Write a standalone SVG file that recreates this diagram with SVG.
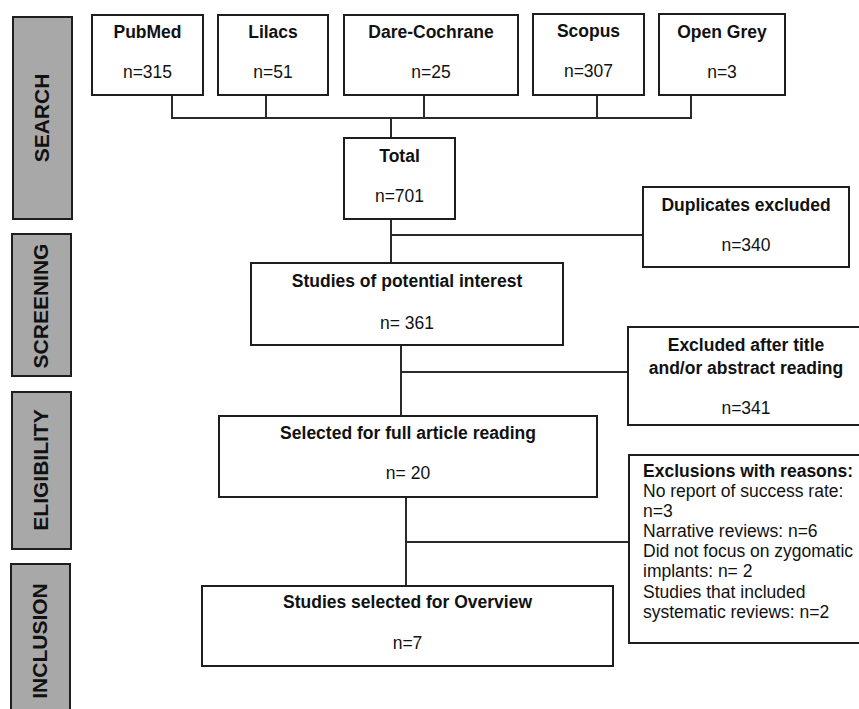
<svg xmlns="http://www.w3.org/2000/svg" width="859" height="709" viewBox="0 0 859 709">
<style>
.box{fill:#fff;stroke:#1e1e1e;stroke-width:2}
.side{fill:#a8a8a8;stroke:#1e1e1e;stroke-width:2}
.t{font-family:"Liberation Sans",Arial,sans-serif;font-size:17.5px;font-weight:bold;fill:#111;text-anchor:middle}
.n{font-family:"Liberation Sans",Arial,sans-serif;font-size:17.5px;fill:#111;text-anchor:middle}
.s{font-family:"Liberation Sans",Arial,sans-serif;font-size:21px;font-weight:bold;fill:#111;text-anchor:middle}
.l{font-family:"Liberation Sans",Arial,sans-serif;font-size:17.5px;fill:#111}
.c{fill:none;stroke:#2a2a2a;stroke-width:2}
</style>
<rect width="859" height="709" fill="#fff"/>
<g id="side-search"><rect class="side" x="13" y="17" width="59" height="202"/><text class="s" transform="translate(49,118) rotate(-90)">SEARCH</text></g>
<g id="side-screening"><rect class="side" x="12" y="234" width="59" height="142"/><text class="s" transform="translate(48,306) rotate(-90)">SCREENING</text></g>
<g id="side-eligibility"><rect class="side" x="12" y="392" width="59" height="157"/><text class="s" transform="translate(48,470) rotate(-90)">ELIGIBILITY</text></g>
<g id="side-inclusion"><rect class="side" x="11" y="564" width="59" height="160"/><text class="s" transform="translate(47,641) rotate(-90)">INCLUSION</text></g>

<g id="connectors">
<path class="c" d="M172 95V118H691V95M266 95V118M424 95V118M597 95V118M391 118V138"/>
<path class="c" d="M391 219V263M391 235H643"/>
<path class="c" d="M401 345V416M401 372H628"/>
<path class="c" d="M406 497V586M406 542H629"/>
</g>

<g id="pubmed"><rect class="box" x="92" y="15" width="111" height="80"/><text class="t" x="147.5" y="38">PubMed</text><text class="n" x="147.5" y="78">n=315</text></g>
<g id="lilacs"><rect class="box" x="218" y="15" width="110" height="80"/><text class="t" x="273" y="38">Lilacs</text><text class="n" x="273" y="78">n=51</text></g>
<g id="dare"><rect class="box" x="344" y="15" width="174" height="80"/><text class="t" x="431" y="38">Dare-Cochrane</text><text class="n" x="431" y="78">n=25</text></g>
<g id="scopus"><rect class="box" x="533" y="14" width="111" height="81"/><text class="t" x="588.5" y="37">Scopus</text><text class="n" x="588.5" y="77">n=307</text></g>
<g id="opengrey"><rect class="box" x="659" y="14" width="126" height="81"/><text class="t" x="722" y="38">Open Grey</text><text class="n" x="722" y="78">n=3</text></g>

<g id="total"><rect class="box" x="344" y="138" width="111" height="81"/><text class="t" x="399.5" y="162">Total</text><text class="n" x="399.5" y="202">n=701</text></g>
<g id="duplicates"><rect class="box" x="643" y="187" width="206" height="80"/><text class="t" x="746" y="211">Duplicates excluded</text><text class="n" x="746" y="251">n=340</text></g>

<g id="potential"><rect class="box" x="251" y="263" width="312" height="82"/><text class="t" x="407" y="287">Studies of potential interest</text><text class="n" x="407" y="329">n= 361</text></g>
<g id="excluded-title"><rect class="box" x="628" y="327" width="235" height="98"/><text class="t" x="746" y="351">Excluded after title</text><text class="t" x="746" y="374">and/or abstract reading</text><text class="n" x="746" y="414">n=341</text></g>

<g id="fullarticle"><rect class="box" x="219" y="416" width="378" height="81"/><text class="t" x="408" y="439">Selected for full article reading</text><text class="n" x="408" y="479">n= 20</text></g>
<g id="exclusions"><rect class="box" x="629" y="455" width="234" height="188"/>
<text class="l" x="643" y="477" font-weight="bold">Exclusions with reasons:</text>
<text class="l" x="643" y="497">No report of success rate:</text>
<text class="l" x="643" y="517">n=3</text>
<text class="l" x="643" y="537">Narrative reviews: n=6</text>
<text class="l" x="643" y="557">Did not focus on zygomatic</text>
<text class="l" x="643" y="577">implants: n= 2</text>
<text class="l" x="643" y="598">Studies that included</text>
<text class="l" x="643" y="618">systematic reviews: n=2</text>
</g>

<g id="overview"><rect class="box" x="202" y="586" width="411" height="80"/><text class="t" x="407.5" y="608">Studies selected for Overview</text><text class="n" x="407.5" y="649">n=7</text></g>
</svg>
